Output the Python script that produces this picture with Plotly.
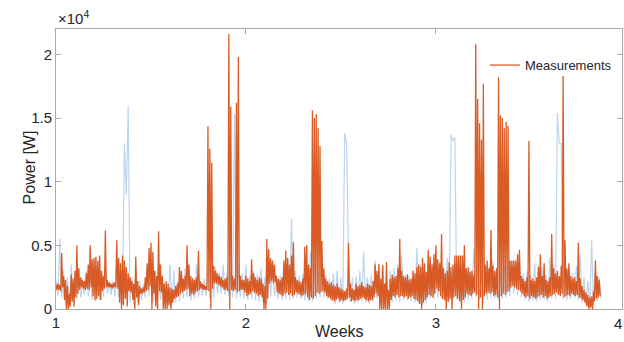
import plotly.graph_objects as go

# ---- data ----
week_start = 1.0
orange_step = 0.01   # weeks between samples of the measurement envelope
blue_step = 0.02     # weeks between samples of the light-blue series

# Measurements: upper and lower value within each 0.01-week slot (W)
meas_hi = [
    1900, 2000, 1900, 4400, 2600, 2300, 1800, 1200, 2700, 2400,
    3000, 5000, 3200, 2500, 2300, 2200, 2800, 3500, 5000, 3900,
    4000, 4100, 3800, 4200, 3000, 2600, 6170, 2300, 2100, 2000,
    2000, 2100, 5400, 4000, 3600, 4200, 3800, 3300, 2800, 2500,
    2200, 2000, 4100, 2200, 1800, 1600, 1700, 2500, 3600, 4800,
    5200, 4500, 3000, 2600, 6100, 3500, 2600, 2000, 2200, 2000,
    1700, 1600, 1500, 1800, 2000, 3300, 3000, 2400, 2600, 5000,
    3500, 2600, 2400, 2300, 2500, 4600, 2200, 2000, 1900, 1800,
    14350, 12600, 11500, 3400, 3000, 2800, 2600, 2500, 2300, 2400,
    2500, 21600, 15900, 2600, 2400, 16200, 19800, 2600, 2300, 2300,
    2600, 2400, 2200, 3900, 2800, 2500, 2300, 2500, 2400, 2000,
    1800, 5500, 4700, 4000, 3800, 3500, 2600, 2400, 2300, 2500,
    3800, 4600, 4000, 3500, 4200, 5250, 2500, 2300, 2200, 2100,
    2400, 4900, 5000, 3500, 3200, 15600, 15000, 15300, 14200, 12800,
    5350, 3200, 2400, 2200, 2000, 2100, 1900, 1800, 2000, 1700,
    1600, 1500, 1400, 1600, 5200, 2000, 1600, 1500, 2000, 1800,
    1900, 2100, 1800, 1700, 2000, 1900, 1800, 2200, 3500, 3000,
    3550, 2400, 3460, 2000, 3700, 1500, 2400, 2700, 2500, 2600,
    3200, 5500, 3000, 2600, 2500, 2700, 2300, 2400, 3000, 2800,
    3300, 3500, 3300, 4000, 3600, 2900, 4650, 4100, 3500, 4300,
    5000, 3900, 3600, 5900, 3200, 2800, 3000, 3700, 3300, 3500,
    4200, 4200, 4200, 4200, 4200, 5000, 3200, 3300, 2900, 3000,
    2700, 20800, 16500, 14600, 13300, 17700, 3500, 3800, 3200, 6200,
    3400, 3000, 3200, 18200, 15200, 15000, 14200, 14700, 14400, 3800,
    3800, 3800, 3800, 4300, 4650, 2600, 2400, 2200, 2500, 13200,
    2300, 2400, 2200, 2500, 3330, 4300, 2600, 3600, 2300, 2200,
    2500, 5900, 3200, 2800, 3000, 2600, 3400, 18300, 5400, 3200,
    3600, 2600, 2400, 2500, 2200, 5200, 2400, 1800, 1500, 1300,
    1100, 900, 1000, 1400, 3800, 2600, 2300,
]
meas_lo = [
    1500, 1500, 1400, 1700, 700, 0, 0, 200, 600, 200,
    900, 1200, 1500, 1700, 1600, 1500, 1600, 1500, 1700, 1000,
    700, 800, 1000, 700, 1400, 1600, 1700, 1700, 1700, 1600,
    1700, 1700, 1600, 500, 0, 300, 800, 200, 1400, 1300,
    700, 0, 900, 300, 1200, 1200, 1300, 1400, 1500, 1800,
    0, 1200, 200, 0, 1400, 1300, 0, 0, 0, 300,
    0, 500, 800, 900, 1000, 1200, 1300, 1400, 1500, 1600,
    1000, 1200, 1100, 1300, 1400, 1500, 1600, 1500, 1500, 1500,
    1400, 0, 1600, 2000, 2000, 1900, 1800, 1700, 1500, 1500,
    1400, 0, 1500, 1400, 1500, 1300, 1400, 1500, 1500, 1300,
    1000, 1100, 1200, 1400, 1300, 1200, 1000, 1100, 900, 0,
    0, 800, 2000, 2200, 2000, 2100, 1300, 1200, 1100, 1000,
    1200, 1300, 1100, 1200, 1000, 1100, 1300, 1200, 1100, 1000,
    1100, 1200, 900, 700, 900, 800, 1000, 1300, 1200, 1300,
    1400, 1300, 1000, 900, 800, 700, 600, 700, 800, 600,
    700, 600, 700, 800, 900, 600, 700, 600, 700, 700,
    800, 900, 800, 700, 600, 700, 700, 900, 1200, 1000,
    0, 0, 0, 0, 0, 0, 700, 1000, 900, 1100,
    900, 1000, 1000, 900, 1000, 800, 900, 1000, 800, 700,
    600, 400, 0, 500, 700, 900, 1100, 1000, 900, 1200,
    1600, 1400, 1000, 800, 700, 0, 600, 800, 0, 900,
    1000, 800, 600, 0, 700, 900, 1200, 1100, 1000, 1200,
    1300, 1100, 0, 900, 0, 1000, 1200, 1300, 1200, 1300,
    1000, 1100, 900, 0, 1000, 1200, 1100, 1300, 1400, 1700,
    1800, 1700, 1600, 1500, 1400, 1200, 1000, 900, 1000, 800,
    1000, 900, 800, 900, 1000, 1100, 900, 1000, 800, 900,
    1000, 1100, 1200, 1300, 1100, 1000, 1200, 900, 1000, 1100,
    1000, 1200, 1100, 1000, 1100, 900, 800, 700, 500, 200,
    0, 100, 0, 600, 800, 900, 1000,
]

# Light-blue series: upper and lower value within each 0.02-week slot (W)
other_hi = [
    2200, 5500, 3000, 2500, 3500, 2600, 2400, 2000, 3000, 3500,
    3800, 3500, 2500, 3200, 2000, 2200, 3500, 3000, 13000, 15900,
    2500, 3000, 2200, 2000, 3300, 4000, 3000, 3500, 2500, 1800,
    3500, 3000, 2200, 2800, 3200, 3000, 2500, 3500, 2200, 2400,
    3200, 3000, 3300, 2800, 3500, 2800, 3000, 15300, 3500, 2800,
    3500, 2600, 3000, 2700, 3200, 2500, 3800, 3600, 2600, 2600,
    3500, 3800, 7100, 3000, 2600, 2800, 3500, 4500, 3500, 3000,
    3600, 2600, 2400, 2800, 3000, 2500, 13800, 4000, 2500, 2600,
    3000, 4500, 2500, 2700, 3800, 3000, 3300, 2800, 3000, 3200,
    3500, 4200, 2700, 2600, 3000, 4800, 3500, 3300, 4200, 3600,
    4400, 3800, 3300, 4000, 13700, 13500, 4000, 3600, 3000, 3200,
    4800, 3500, 3000, 3400, 3300, 3800, 3200, 3000, 3400, 3500,
    3500, 3200, 3800, 2800, 3000, 2600, 3600, 3000, 3300, 2700,
    4000, 3500, 15400, 13000, 4200, 3200, 2800, 3400, 4300, 2500,
    2200, 5400, 3000, 2500,
]
other_lo = [
    1000, 900, 300, 200, 500, 800, 900, 1100, 1000, 700,
    600, 700, 1000, 1200, 1100, 1000, 900, 400, 9000, 500,
    400, 500, 700, 900, 1000, 500, 600, 700, 400, 300,
    400, 500, 600, 800, 900, 700, 800, 900, 1000, 1000,
    800, 900, 1200, 1200, 1100, 1000, 900, 800, 900, 800,
    700, 800, 700, 600, 500, 400, 900, 1000, 800, 700,
    800, 700, 800, 900, 800, 700, 600, 600, 800, 900,
    900, 800, 600, 400, 500, 400, 13000, 600, 400, 500,
    600, 500, 400, 600, 800, 300, 200, 300, 500, 700,
    600, 700, 700, 600, 500, 500, 300, 500, 800, 800,
    900, 800, 600, 500, 13200, 700, 600, 500, 700, 800,
    900, 700, 500, 700, 900, 800, 700, 800, 900, 1000,
    1200, 1100, 900, 700, 600, 700, 600, 700, 700, 600,
    800, 800, 13000, 800, 700, 800, 900, 700, 500, 400,
    300, 300, 600, 800,
]


def zigzag(hi, lo, step):
    xs, ys = [], []
    for i, (h, l) in enumerate(zip(hi, lo)):
        w = week_start + i * step
        xs += [w, w + step / 2]
        ys += [h, l]
    return xs, ys


ox, oy = zigzag(meas_hi, meas_lo, orange_step)
bx, by = zigzag(other_hi, other_lo, blue_step)

ORANGE = "rgb(217,83,25)"
LIGHTBLUE = "rgb(190,212,236)"
AXIS = "rgb(170,170,170)"
TXT = "rgb(38,38,38)"
FONT = "Liberation Sans, Arial, sans-serif"

fig = go.Figure()
fig.add_trace(go.Scatter(x=bx, y=by, mode="lines", showlegend=False,
                         line=dict(color=LIGHTBLUE, width=1.2), hoverinfo="skip"))
fig.add_trace(go.Scatter(x=ox, y=oy, mode="lines", name="Measurements",
                         line=dict(color=ORANGE, width=1.3), opacity=0.95))

fig.update_layout(
    width=624, height=342,
    margin=dict(l=56, r=2, t=29, b=33, autoexpand=False),
    paper_bgcolor="white", plot_bgcolor="white",
    font=dict(family=FONT, size=14, color=TXT),
    legend=dict(x=0.758, xanchor="left", y=0.871, yanchor="middle",
                bgcolor="rgba(0,0,0,0)", borderwidth=0,
                font=dict(size=13, color=TXT), itemwidth=30),
    showlegend=True,
)
fig.update_xaxes(range=[1, 3.98], tickvals=[1, 2, 3], ticktext=["1", "2", "3"],
                 showgrid=False, zeroline=False, showline=True, linecolor=AXIS,
                 linewidth=1, mirror="ticks", ticks="inside", ticklen=5,
                 tickcolor=AXIS, tickfont=dict(size=15, color=TXT), automargin=False)
fig.update_yaxes(range=[0, 22000], tickvals=[0, 5000, 10000, 15000, 20000],
                 ticktext=["0", "0.5", "1", "1.5", "2"],
                 showgrid=False, zeroline=False, showline=True, linecolor=AXIS,
                 linewidth=1, mirror="ticks", ticks="inside", ticklen=5,
                 tickcolor=AXIS, tickfont=dict(size=15, color=TXT), automargin=False)

fig.add_annotation(x=1.0, y=0, xref="paper", yref="paper", text="4", showarrow=False,
                   xshift=2, yanchor="top", yshift=-4, font=dict(size=15, color=TXT))
fig.add_annotation(x=0.5, y=-0.079, xref="paper", yref="paper", text="Weeks",
                   showarrow=False, yanchor="middle", font=dict(size=16, color=TXT))
fig.add_annotation(x=0, y=0.504, xref="paper", yref="paper", text="Power [W]",
                   xshift=-37, showarrow=False, textangle=-90,
                   font=dict(size=16, color=TXT))
fig.add_annotation(x=0, y=1.0, xref="paper", yref="paper", text="×10<sup>4</sup>",
                   showarrow=False, xanchor="left", yanchor="bottom",
                   font=dict(size=15, color=TXT))

fig.write_html("out.html", config={"displayModeBar": False},
               post_script="document.body.style.margin='0';document.body.style.overflow='hidden';")
